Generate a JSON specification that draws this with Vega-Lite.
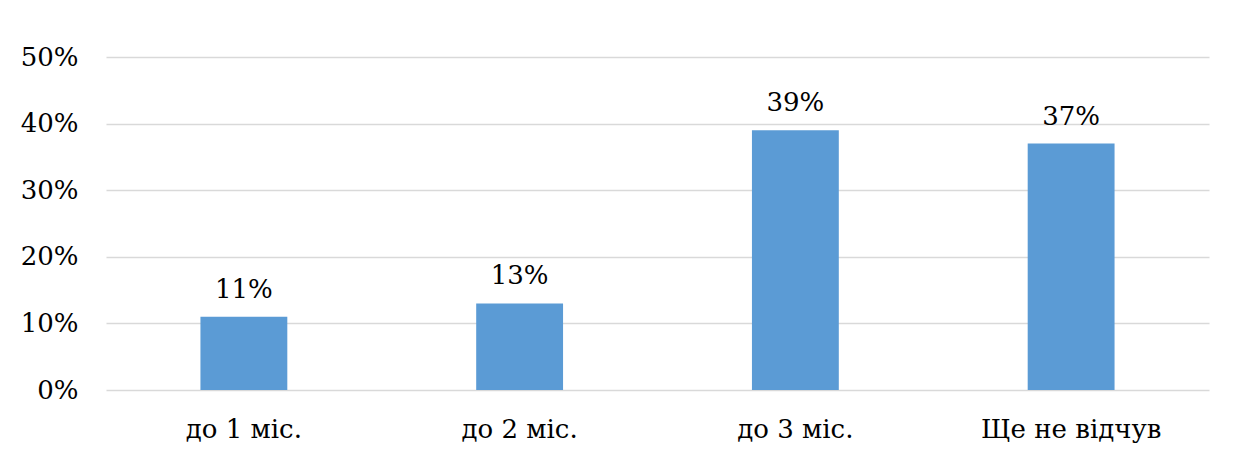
{
  "$schema": "https://vega.github.io/schema/vega-lite/v6.json",
  "autosize": {"type": "none"},
  "padding": {"left": 106, "top": 57, "right": 51, "bottom": 65},
  "width": 1103,
  "height": 333,
  "background": "white",
  "config": {
    "view": {"stroke": null},
    "font": "DejaVu Serif",
    "axis": {
      "labelFont": "DejaVu Serif",
      "labelFontSize": 26,
      "labelLimit": 0,
      "labelColor": "#000000",
      "ticks": false,
      "domain": false,
      "title": null
    }
  },
  "data": {
    "values": [
      {"period": "до 1 міс.", "share": 0.11},
      {"period": "до 2 міс.", "share": 0.13},
      {"period": "до 3 міс.", "share": 0.39},
      {"period": "Ще не відчув", "share": 0.37}
    ]
  },
  "encoding": {
    "x": {
      "field": "period",
      "type": "nominal",
      "sort": null,
      "scale": {"paddingInner": 0.685, "paddingOuter": 0.3425},
      "axis": {"labelAngle": 0, "labelPadding": 26, "grid": false}
    },
    "y": {
      "field": "share",
      "type": "quantitative",
      "scale": {"domain": [0, 0.5], "nice": false},
      "axis": {
        "values": [0, 0.1, 0.2, 0.3, 0.4, 0.5],
        "format": ".0%",
        "labelPadding": 28,
        "grid": true,
        "gridColor": "#D9D9D9",
        "gridWidth": 1.5
      }
    }
  },
  "layer": [
    {"mark": {"type": "bar", "color": "#5B9BD5"}},
    {
      "mark": {"type": "text", "dy": -19, "baseline": "alphabetic", "fontSize": 26, "color": "#000000", "font": "DejaVu Serif"},
      "encoding": {"text": {"field": "share", "type": "quantitative", "format": ".0%"}}
    }
  ]
}
